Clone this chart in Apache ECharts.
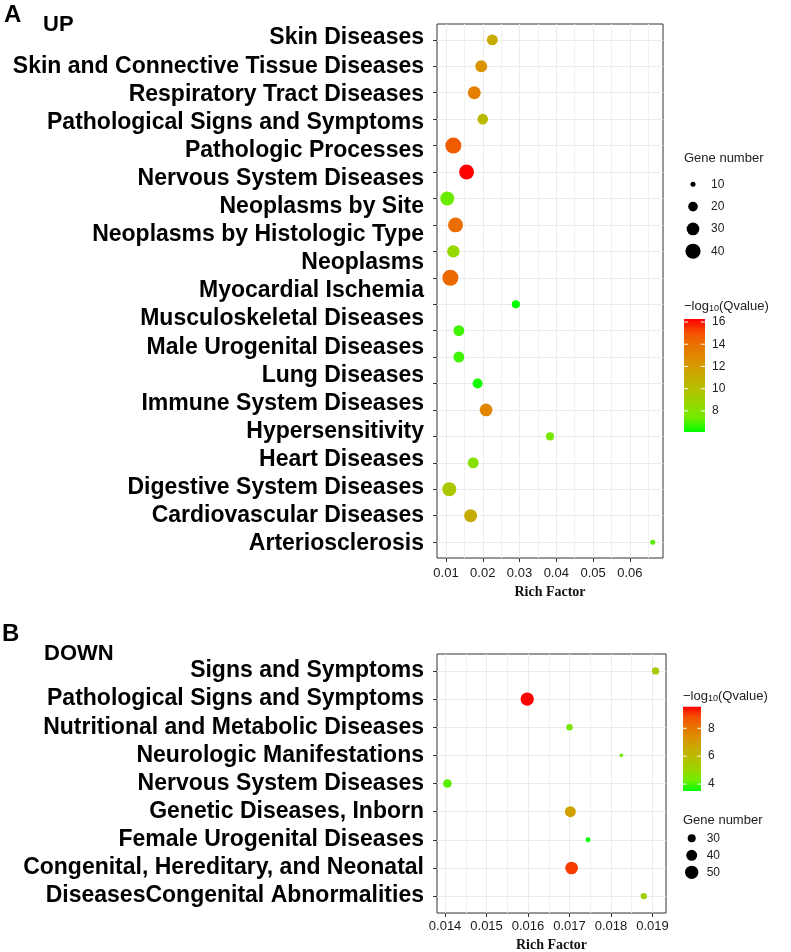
<!DOCTYPE html>
<html><head><meta charset="utf-8">
<script src="https://cdn.jsdelivr.net/npm/echarts@6/dist/echarts.min.js"></script>
<style>html,body{margin:0;padding:0;background:#fff}#c{width:791px;height:952px}</style>
</head><body><div id="c"></div>
<script>
// ---------- Panel A (UP) ----------
const labelsA = ['Skin Diseases','Skin and Connective Tissue Diseases','Respiratory Tract Diseases','Pathological Signs and Symptoms','Pathologic Processes','Nervous System Diseases','Neoplasms by Site','Neoplasms by Histologic Type','Neoplasms','Myocardial Ischemia','Musculoskeletal Diseases','Male Urogenital Diseases','Lung Diseases','Immune System Diseases','Hypersensitivity','Heart Diseases','Digestive System Diseases','Cardiovascular Diseases','Arteriosclerosis'];
const richA = [0.0226,0.0196,0.0177,0.0200,0.0120,0.0156,0.01035,0.0126,0.0120,0.0112,0.0290,0.0135,0.0135,0.0186,0.0209,0.0383,0.0174,0.0109,0.0167,0.06623];
const geneA = [24,27,31,23,44,39,35,39,29,44,16,24,24,21,30,16,24,35,31,10];
const qA = [11.2,12.4,13.4,10.3,14.7,16.27,7.3,14.0,8.6,14.2,6.1,6.8,6.8,6.3,13.0,7.6,8.1,9.6,11.2,7.1];
const ticksA = [0.01,0.02,0.03,0.04,0.05,0.06];
const geneLegendA = [10,20,30,40];
const colorTicksA = [8,10,12,14,16];

// ---------- Panel B (DOWN) ----------
const labelsB = ['Signs and Symptoms','Pathological Signs and Symptoms','Nutritional and Metabolic Diseases','Neurologic Manifestations','Nervous System Diseases','Genetic Diseases, Inborn','Female Urogenital Diseases','Congenital, Hereditary, and Neonatal','DiseasesCongenital Abnormalities'];
const richB = [0.019075,0.01598,0.01700,0.01825,0.014056,0.01702,0.017445,0.01705,0.01879];
const geneB = [28,50,26,21,32,40,23,47,26];
const qB = [5.5,9.55,4.4,4.2,4.1,6.8,3.5,9.0,5.3];
const ticksB = [0.014,0.015,0.016,0.017,0.018,0.019];
const geneLegendB = [30,40,50];
const colorTicksB = [4,6,8];

// ---------- helpers ----------
const SANS = '"Liberation Sans", Arial, sans-serif';
const SERIF = '"Liberation Serif", "Times New Roman", serif';
const gradColors = ['#00FF00','#70EB00','#98D700','#B3C100','#C8AB00','#DA9200','#E87600','#F45300','#FF0000'];
function sizeA(g){ return Math.sqrt(Math.max(9, 25 + 6.8*(g-10))); }
function sizeB(g){ return Math.sqrt(Math.max(9, 64 + 5.65*(g-30))); }
function ext(arr){ const mn=Math.min(...arr), mx=Math.max(...arr), p=(mx-mn)*0.05; return [mn-p, mx+p]; }
function minorOf(t){ const s=t[1]-t[0]; const r=t.map(v=>+(v-s/2).toFixed(6)); r.push(+(t[t.length-1]+s/2).toFixed(6)); return r; }
const xExtA = ext(richA), xExtB = ext(richB);
const rowsA = richA.map((_,i)=>i+1), rowsB = richB.map((_,i)=>i+1);
const qExtA = [Math.min(...qA), Math.max(...qA)], qExtB = [Math.min(...qB), Math.max(...qB)];

const GRID_LINE = '#EBEBEB';
const AX = '#333333';

function xMain(gi, e, ticks, dec, margin, gap){
  return {gridIndex:gi, type:'value', position:'bottom', min:e[0], max:e[1],
    axisLine:{show:false},
    axisTick:{show:true, length:4, customValues:ticks, lineStyle:{color:AX, width:1}},
    axisLabel:{customValues:ticks, formatter:v=>v.toFixed(dec), margin:margin, fontSize:13, fontFamily:SANS, color:'#1a1a1a'},
    splitLine:{show:true, lineStyle:{color:GRID_LINE, width:1}},
    name:'Rich Factor', nameLocation:'middle', nameGap:gap,
    nameTextStyle:{fontFamily:SERIF, fontWeight:'bold', fontSize:14, color:'#111'}};
}
function xMinor(gi, e, ticks){
  return {gridIndex:gi, type:'value', position:'bottom', min:e[0], max:e[1],
    axisLine:{show:false}, axisTick:{show:false, customValues:minorOf(ticks)},
    axisLabel:{show:false}, splitLine:{show:true, lineStyle:{color:'#F1F1F1', width:1}}};
}
const labelStyle = {fontSize:23, fontWeight:'bold', fontFamily:SANS, color:'#000'};

// colorbar + gene-size legends as graphics
function colorbar(x, y, w, h, ext, ticks){
  const els = [];
  const stops = gradColors.slice().reverse().map((c,i,a)=>({offset:i/(a.length-1), color:c}));
  els.push({type:'rect', shape:{x:x, y:y, width:w, height:h}, style:{fill:new echarts.graphic.LinearGradient(0,0,0,1,stops)}});
  ticks.forEach(v=>{
    const ty = y + (ext[1]-v)/(ext[1]-ext[0])*h;
    els.push({type:'line', shape:{x1:x, y1:ty, x2:x+w/5, y2:ty}, style:{stroke:'#fff', lineWidth:1}});
    els.push({type:'line', shape:{x1:x+w-w/5, y1:ty, x2:x+w, y2:ty}, style:{stroke:'#fff', lineWidth:1}});
    els.push({type:'text', x:x+w+7, y:ty, style:{text:String(v), fontSize:12, fontFamily:SANS, fill:'#222', verticalAlign:'middle'}});
  });
  return els;
}
function cbTitle(x, y){
  return {type:'text', x:x, y:y, style:{text:'{a|−log}{b|10}{a|(Qvalue)}', verticalAlign:'middle',
    rich:{a:{fontSize:13, fontFamily:SANS, fill:'#222', verticalAlign:'bottom', lineHeight:16},
          b:{fontSize:9, fontFamily:SANS, fill:'#222', verticalAlign:'bottom', lineHeight:11}}}};
}
function sizeLegend(x, y, cx, y0, step, vals, fn, lx){
  const els = [{type:'text', x:x, y:y, style:{text:'Gene number', fontSize:13, fontFamily:SANS, fill:'#222', verticalAlign:'middle'}}];
  vals.forEach((v,i)=>{
    const cy = y0 + i*step;
    els.push({type:'circle', shape:{cx:cx, cy:cy, r:fn(v)/2}, style:{fill:'#000'}});
    els.push({type:'text', x:lx, y:cy, style:{text:String(v), fontSize:12, fontFamily:SANS, fill:'#222', verticalAlign:'middle'}});
  });
  return els;
}

const graphics = [
  {type:'text', x:4, y:15, style:{text:'A', fontSize:24, fontWeight:'bold', fontFamily:SANS, fill:'#000', verticalAlign:'middle'}},
  {type:'text', x:43, y:25, style:{text:'UP', fontSize:22, fontWeight:'bold', fontFamily:SANS, fill:'#000', verticalAlign:'middle'}},
  {type:'text', x:2, y:634, style:{text:'B', fontSize:24, fontWeight:'bold', fontFamily:SANS, fill:'#000', verticalAlign:'middle'}},
  {type:'text', x:44, y:654, style:{text:'DOWN', fontSize:22, fontWeight:'bold', fontFamily:SANS, fill:'#000', verticalAlign:'middle'}},
  ...sizeLegend(684, 158, 693, 184.3, 22.3, geneLegendA, sizeA, 711),
  cbTitle(684, 305),
  ...colorbar(684, 319, 21, 113, qExtA, colorTicksA),
  cbTitle(683, 695),
  ...colorbar(683, 706.7, 18, 84.3, qExtB, colorTicksB),
  ...sizeLegend(683, 820, 691.7, 838.3, 17, geneLegendB, sizeB, 706.7)
];

const chart = echarts.init(document.getElementById('c'), null, {renderer:'canvas'});
chart.setOption({
  animation:false,
  backgroundColor:'#fff',
  textStyle:{fontFamily:SANS},
  grid:[
    {left:437, top:24, width:226, height:534, show:true, borderColor:AX, borderWidth:1, backgroundColor:'rgba(0,0,0,0)', containLabel:false, outerBoundsMode:'none'},
    {left:437, top:654, width:229, height:259, show:true, borderColor:AX, borderWidth:1, backgroundColor:'rgba(0,0,0,0)', containLabel:false, outerBoundsMode:'none'}
  ],
  xAxis:[
    xMain(0, xExtA, ticksA, 2, 9, 27),
    xMinor(0, xExtA, ticksA),
    xMain(1, xExtB, ticksB, 3, 7, 25),
    xMinor(1, xExtB, ticksB)
  ],
  yAxis:[
    {gridIndex:0, type:'value', position:'left', inverse:true, min:0.4, max:rowsA.length+0.6,
      axisLine:{show:false}, axisTick:{show:true, length:4, customValues:rowsA, lineStyle:{color:AX}},
      axisLabel:{show:false}, splitLine:{show:true, lineStyle:{color:GRID_LINE, width:1}}},
    {gridIndex:0, type:'category', position:'left', inverse:true, boundaryGap:true, data:labelsA,
      axisLine:{show:false}, axisTick:{show:false}, splitLine:{show:false},
      axisLabel:Object.assign({interval:0, margin:13}, labelStyle)},
    {gridIndex:1, type:'value', position:'left', inverse:true, min:0.4, max:rowsB.length+0.6,
      axisLine:{show:false}, axisTick:{show:true, length:4, customValues:rowsB, lineStyle:{color:AX}},
      axisLabel:Object.assign({customValues:rowsB, formatter:v=>labelsB[Math.round(v)-1], margin:13}, labelStyle),
      splitLine:{show:true, lineStyle:{color:GRID_LINE, width:1}}}
  ],
  visualMap:[
    {type:'continuous', show:false, seriesIndex:0, dimension:2, min:qExtA[0], max:qExtA[1], inRange:{color:gradColors}},
    {type:'continuous', show:false, seriesIndex:1, dimension:2, min:qExtB[0], max:qExtB[1], inRange:{color:gradColors}}
  ],
  series:[
    {type:'scatter', xAxisIndex:0, yAxisIndex:0, symbol:'circle',
      data:richA.map((x,i)=>[x, rowsA[i], qA[i], geneA[i]]),
      symbolSize:v=>sizeA(v[3]), itemStyle:{opacity:1}, emphasis:{disabled:true}},
    {type:'scatter', xAxisIndex:2, yAxisIndex:2, symbol:'circle',
      data:richB.map((x,i)=>[x, rowsB[i], qB[i], geneB[i]]),
      symbolSize:v=>sizeB(v[3]), itemStyle:{opacity:1}, emphasis:{disabled:true}}
  ],
  graphic:graphics
});
</script></body></html>
